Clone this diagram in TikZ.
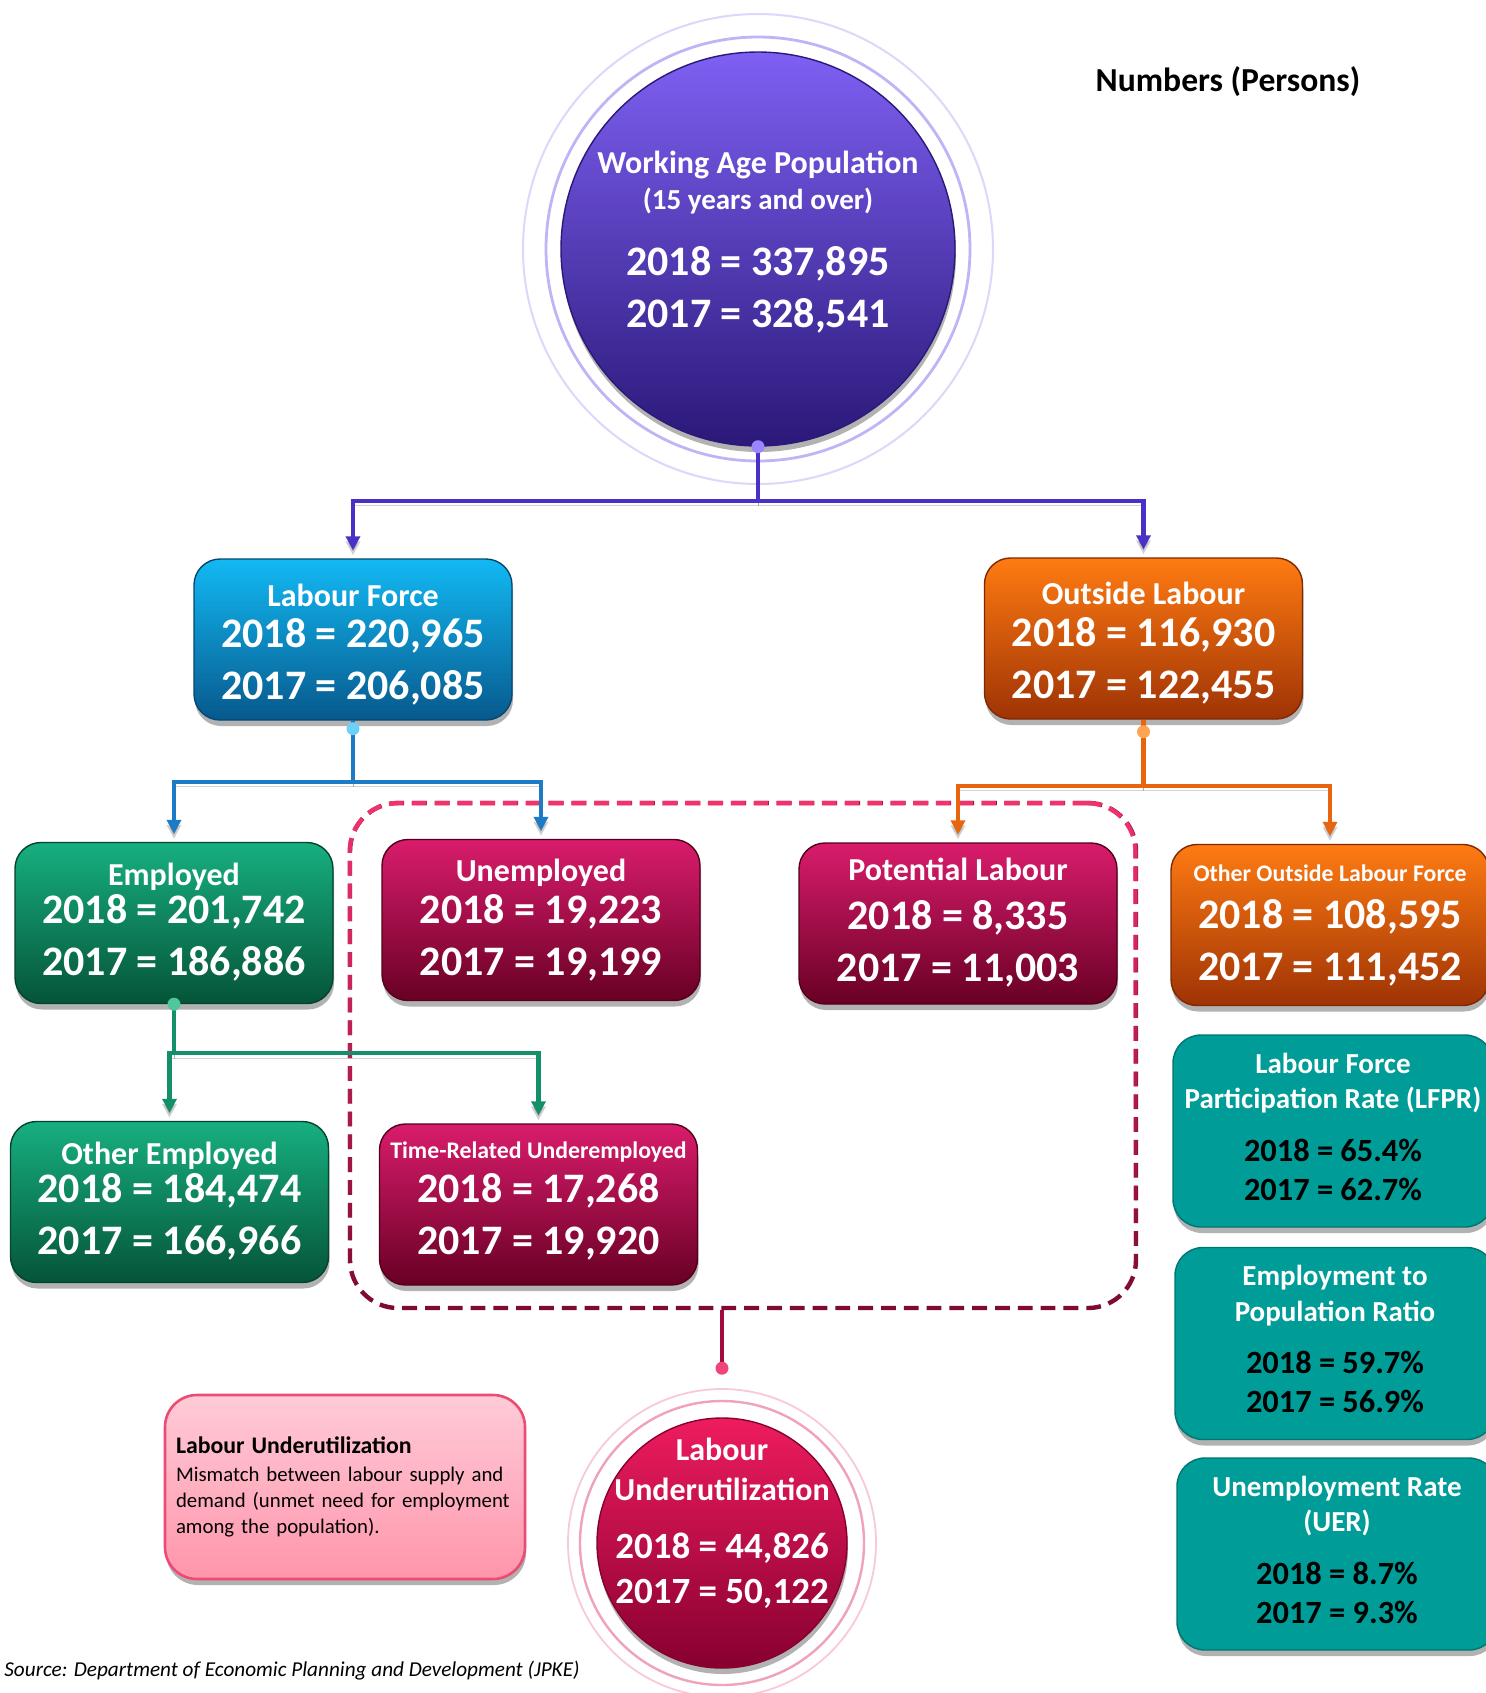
\documentclass[tikz,border=0pt]{standalone}
\usepackage{fontspec}
\setmainfont{Carlito}
\usetikzlibrary{calc,arrows.meta,shadows,fadings}

\definecolor{wapTop}{HTML}{7E60F3}
\definecolor{wapBot}{HTML}{2B1878}
\definecolor{wapLine}{HTML}{4B30C8}
\definecolor{wapKnob}{HTML}{9C86FF}
\definecolor{wapRingA}{HTML}{C2B3F7}
\definecolor{wapRingB}{HTML}{DED6FB}
\definecolor{lfTop}{HTML}{12B9F4}
\definecolor{lfBot}{HTML}{07598C}
\definecolor{lfLine}{HTML}{1C7BC4}
\definecolor{lfKnob}{HTML}{6FD0F7}
\definecolor{olTop}{HTML}{FF7B12}
\definecolor{olBot}{HTML}{9E3305}
\definecolor{olLine}{HTML}{E8640E}
\definecolor{olKnob}{HTML}{FFA552}
\definecolor{emTop}{HTML}{17AF80}
\definecolor{emBot}{HTML}{055438}
\definecolor{emLine}{HTML}{13906A}
\definecolor{emKnob}{HTML}{4FC79A}
\definecolor{unTop}{HTML}{D91C6C}
\definecolor{unBot}{HTML}{680024}
\definecolor{ulTop}{HTML}{EE1C5E}
\definecolor{ulBot}{HTML}{870030}
\definecolor{ulRingA}{HTML}{EFA2BA}
\definecolor{ulRingB}{HTML}{F7CAD6}
\definecolor{ulLine}{HTML}{9E0D3C}
\definecolor{ulKnob}{HTML}{F0457A}
\definecolor{dashPink}{HTML}{F2336E}
\definecolor{dashMaroon}{HTML}{7E0B32}
\definecolor{rateTeal}{HTML}{009C98}
\definecolor{defTop}{HTML}{FFCBD7}
\definecolor{defBot}{HTML}{FF95AB}
\definecolor{defEdge}{HTML}{EC4C73}

\tikzset{
  softshadow/.style={drop shadow={shadow xshift=0.5pt, shadow yshift=-3pt, opacity=0.3, fill=black}},
  statbox/.style={rounded corners=13pt, minimum width=159pt, minimum height=80.5pt, line width=0.7pt, softshadow},
  bluebox/.style={statbox, top color=lfTop, bottom color=lfBot, draw=lfBot!80!black},
  orangebox/.style={statbox, top color=olTop, bottom color=olBot, draw=olBot!80!black},
  greenbox/.style={statbox, top color=emTop, bottom color=emBot, draw=emBot!80!black},
  redbox/.style={statbox, top color=unTop, bottom color=unBot, draw=unBot!80!black},
  ratebox/.style={rounded corners=14pt, minimum width=160pt, minimum height=96pt, fill=rateTeal, draw=rateTeal!75!black, line width=0.7pt, softshadow},
  disc/.style={circle, line width=0.7pt, softshadow},
  boxhead/.style={text=white, inner sep=0pt, text height=10.5pt, text depth=0pt, font=\bfseries\fontsize{16}{16}\selectfont},
  smallhead/.style={boxhead, text height=7.8pt, font=\bfseries\fontsize{11.9}{12}\selectfont},
  subhead/.style={boxhead, text height=9.5pt, font=\bfseries\fontsize{14.5}{15}\selectfont},
  boxnum/.style={text=white, inner sep=0pt, text height=13.3pt, text depth=0pt, font=\bfseries\fontsize{21}{21}\selectfont},
  midnum/.style={boxnum, text height=11.7pt, font=\bfseries\fontsize{18.5}{19}\selectfont},
  ratenum/.style={text=black, inner sep=0pt, text height=10.2pt, text depth=0pt, font=\bfseries\fontsize{16.2}{17}\selectfont},
  knob/.style={circle, inner sep=0pt, minimum size=6.5pt},
  link/.style={line width=2.2pt, preaction={draw=black, opacity=0.18, transform canvas={yshift=-2.5pt}}},
  tip/.style={-{Triangle[width=7pt,length=7pt]}, shorten >=4pt},
  ulframe/.style={draw=dashMaroon, line width=2.2pt, dash pattern=on 7.4pt off 4pt, rounded corners=24pt,
    minimum width=393pt, minimum height=252.5pt, postaction={draw=dashPink, path fading=south}},
  defbox/.style={rounded corners=16pt, minimum width=180pt, minimum height=92pt, top color=defTop, bottom color=defBot,
    draw=defEdge, line width=1.3pt, text width=169pt, inner xsep=5.5pt, align=left,
    font=\fontsize{10.4}{13}\selectfont, softshadow},
}

% name, x, y, box style, heading style, heading, 2018, 2017, offset of the 2018 line
\newcommand{\statbox}[9]{%
  \node[#4] (#1) at (#2,#3) {};
  \node[#5] (#1-t) at ($(#1.center)+(0,#9-39)$) {#6};
  \node[boxnum] (#1-a) at ($(#1.center)+(0,#9)$) {2018 = #7};
  \node[boxnum] (#1-b) at ($(#1.center)+(0,#9+52)$) {2017 = #8};
}
% name, x, y, heading line 1, heading line 2, 2018, 2017
\newcommand{\ratebox}[7]{%
  \node[ratebox] (#1) at (#2,#3) {};
  \node[subhead] (#1-t) at ($(#1.center)+(0,-67.5)$) {#4};
  \node[subhead] (#1-u) at ($(#1.center)+(0,-32)$) {#5};
  \node[ratenum] (#1-a) at ($(#1.center)+(0,20)$) {2018 = #6};
  \node[ratenum] (#1-b) at ($(#1.center)+(0,59)$) {2017 = #7};
}

\begin{document}
\begin{tikzpicture}[x=0.5pt,y=-0.5pt]
\fill[white] (0,0) rectangle (1486,1693);
\useasboundingbox (0,0) rectangle (1486,1693);

\node[font=\bfseries\fontsize{16.8}{17}\selectfont] (unit) at (1228,82) {Numbers (Persons)};

% working age population
\node[disc, top color=wapTop, bottom color=wapBot, draw=wapBot, minimum size=197pt] (wap) at (758,249) {};
\draw[line width=1.4pt, wapRingA] (wap.center) circle[radius=106pt];
\draw[line width=1pt, wapRingB] (wap.center) circle[radius=117.5pt];
\node[boxhead] (wap-t) at ($(wap.center)+(0,-86)$) {Working Age Population};
\node[subhead] (wap-u) at ($(wap.center)+(0,-49)$) {(15 years and over)};
\node[boxnum] (wap-a) at ($(wap.center)+(0,13)$) {2018 = 337,895};
\node[boxnum] (wap-b) at ($(wap.center)+(0,65)$) {2017 = 328,541};

% frame round the underutilised groups
\node[ulframe] (ulf) at (743,1055.5) {};

\statbox{lf}{353}{639.5}{bluebox}{boxhead}{Labour Force}{220,965}{206,085}{-5}
\statbox{ol}{1143.5}{638.5}{orangebox}{boxhead}{Outside Labour}{116,930}{122,455}{-5.5}
\statbox{em}{174}{923}{greenbox}{boxhead, yshift=-2pt}{Employed}{201,742}{186,886}{-13}
\statbox{un}{541}{920}{redbox}{boxhead}{Unemployed}{19,223}{19,199}{-10}
\statbox{pl}{958}{923.5}{redbox}{boxhead, yshift=3.6pt}{Potential Labour}{8,335}{11,003}{-7.5}
\statbox{oo}{1330}{925}{orangebox}{smallhead, yshift=1pt}{Other Outside Labour Force}{108,595}{111,452}{-10}
\statbox{oe}{169.5}{1202}{greenbox}{boxhead, yshift=-2pt}{Other Employed}{184,474}{166,966}{-13}
\statbox{tr}{538.5}{1204.5}{redbox}{smallhead}{Time-Related Underemployed}{17,268}{19,920}{-15}

\ratebox{lfpr}{1333}{1131}{Labour Force}{Participation Rate (LFPR)}{65.4\%}{62.7\%}
\ratebox{epr}{1335}{1343.5}{Employment to}{Population Ratio}{59.7\%}{56.9\%}
\ratebox{uer}{1337}{1554}{Unemployment Rate}{(UER)}{8.7\%}{9.3\%}

% labour underutilization
\node[disc, top color=ulTop, bottom color=ulBot, draw=ulBot, minimum size=125pt] (ulc) at (722,1543) {};
\draw[line width=1.2pt, ulRingA] (ulc.center) circle[radius=71pt];
\draw[line width=0.9pt, ulRingB] (ulc.center) circle[radius=77pt];
\node[boxhead] (ulc-t) at ($(ulc.center)+(0,-93)$) {Labour};
\node[boxhead] (ulc-u) at ($(ulc.center)+(0,-53)$) {Underutilization};
\node[midnum] (ulc-a) at ($(ulc.center)+(0,4)$) {2018 = 44,826};
\node[midnum] (ulc-b) at ($(ulc.center)+(0,49)$) {2017 = 50,122};

\node[defbox] (def) at (345,1487) {{\bfseries\fontsize{11.9}{14}\selectfont Labour Underutilization}\\[1pt]
  Mismatch between labour supply and\\ demand (unmet need for employment\\ among the population).};

% connectors
\draw[link, wapLine, tip] (wap.south) -- ++(0,54) -| (lf.north);
\draw[link, wapLine, tip] (wap.south) -- ++(0,54) -| (ol.north);
\node[knob, fill=wapKnob] (wap-k) at (wap.south) {};
\draw[link, lfLine, tip] (lf.south) -- ++(0,61) -| (em.north);
\draw[link, lfLine, tip] (lf.south) -- ++(0,61) -| (un.north);
\node[knob, fill=lfKnob] (lf-k) at ([yshift=-4pt]lf.south) {};
\draw[link, olLine, tip] (ol.south) -- ++(0,66) -| (pl.north);
\draw[link, olLine, tip] (ol.south) -- ++(0,66) -| (oo.north);
\node[knob, fill=olKnob] (ol-k) at ([yshift=-6pt]ol.south) {};
\draw[link, emLine, tip] (em.south) -- ++(0,49) -| (oe.north);
\draw[link, emLine, tip] (em.south) -- ++(0,49) -| (tr.north);
\node[knob, fill=emKnob] (em-k) at (em.south) {};
\draw[link, ulLine] (ulf.south -| ulc.center) -- ++(0,58) node[knob, fill=ulKnob] (ulf-k) {};

\node[anchor=west, inner sep=0pt, font=\itshape\fontsize{10.6}{11}\selectfont] (src) at (4,1671)
  {Source: Department of Economic Planning and Development (JPKE)};
\end{tikzpicture}
\end{document}
